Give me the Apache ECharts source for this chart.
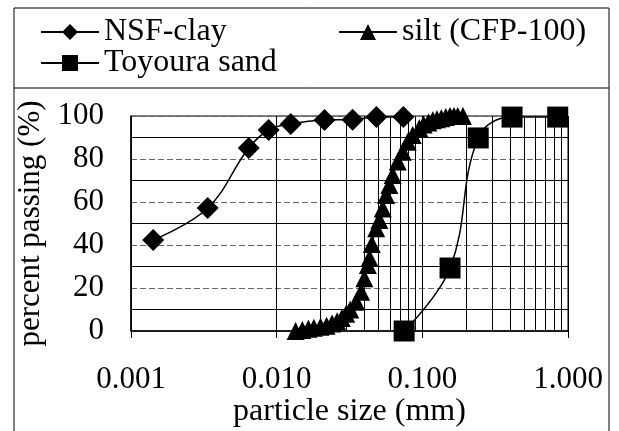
<!DOCTYPE html>
<html>
<head>
<meta charset="utf-8">
<script src="https://cdn.jsdelivr.net/npm/echarts@6/dist/echarts.min.js"></script>
<style>html,body{margin:0;padding:0;background:#fff}#c{width:619px;height:431px}</style>
</head>
<body>
<div id="c"></div>
<script>
const xTickValues = [0.001, 0.01, 0.1, 1];
const minorGridX = [0.002,0.003,0.004,0.005,0.006,0.007,0.008,0.009,
                    0.02,0.03,0.04,0.05,0.06,0.07,0.08,0.09,
                    0.2,0.3,0.4,0.5,0.6,0.7,0.8,0.9];
const nsfClay = [[0.00142,42.3],[0.00336,57.2],[0.00643,85.1],[0.00881,93.5],[0.0125,96.3],[0.0213,98.1],[0.0332,98.3],[0.0484,99.5],[0.0741,99.5]];
const silt = [[0.0135,0],[0.0150,0.5],[0.0165,1],[0.018,1.5],[0.020,2],[0.022,2.5],[0.024,3.5],[0.026,4.5],[0.028,6],[0.030,8],[0.032,10],
              [0.0352,13.6],[0.038,18.3],[0.040,24.5],[0.0423,30.7],[0.0434,34],[0.0450,40.5],[0.0482,47.8],[0.0507,51.6],[0.0535,57],[0.0564,63.3],
              [0.0594,67.9],[0.0626,72.6],[0.0678,78.8],[0.0733,83.4],[0.0793,88],[0.0859,91.2],[0.0953,94.3],[0.102,96],[0.110,97],[0.118,98],
              [0.126,98.5],[0.135,99],[0.145,99.5],[0.155,100],[0.165,100],[0.175,100],[0.190,100]];
const toyoura = [[0.075,0],[0.155,29.3],[0.242,89.8],[0.413,99.5],[0.85,99.5]];
const seriesNames = ['NSF-clay','silt (CFP-100)','Toyoura sand'];

const FONT = 'Liberation Serif';
const chart = echarts.init(document.getElementById('c'));
const legendText = {fontFamily: FONT, fontSize: 32, color: '#000'};
chart.setOption({
  animation: false,
  backgroundColor: '#fff',
  textStyle: {fontFamily: FONT},
  graphic: [
    {type:'rect', shape:{x:14, y:8, width:595, height:460}, style:{fill:'none', stroke:'#000', lineWidth:1}, silent:true},
    {type:'line', shape:{x1:14, y1:88, x2:609, y2:88}, style:{stroke:'#000', lineWidth:1}, silent:true}
  ],
  legend: [
    {data:[seriesNames[0]], left:40, top:16, itemWidth:58, itemHeight:20, itemGap:0, textStyle:legendText, padding:0},
    {data:[seriesNames[1]], left:338, top:16, itemWidth:58, itemHeight:20, itemGap:0, textStyle:legendText, padding:0},
    {data:[seriesNames[2]], left:40, top:47, itemWidth:58, itemHeight:20, itemGap:0, textStyle:legendText, padding:0}
  ],
  grid: {left:131, right:51, top:116, bottom:100, show:true, borderColor:'#000', borderWidth:1},
  xAxis: {
    type:'log', logBase:10, min:0.001, max:1,
    name:'particle size (mm)', nameLocation:'middle', nameGap:55,
    nameTextStyle:{fontFamily:FONT, fontSize:32, color:'#000'},
    axisLine:{show:true, lineStyle:{color:'#000', width:1.5}},
    axisTick:{show:true, length:7, lineStyle:{color:'#000'}},
    axisLabel:{fontFamily:FONT, fontSize:31, color:'#000', margin:33,
      formatter: v => { const t = xTickValues.find(x => Math.abs(Math.log10(x) - Math.log10(v)) < 1e-6); return (t !== undefined ? t : v).toFixed(3); }},
    splitLine:{show:true, lineStyle:{color:'#000', width:1}}
  },
  yAxis: {
    type:'value', min:0, max:100, interval:20,
    name:'percent passing (%)', nameLocation:'middle', nameGap:76,
    nameTextStyle:{fontFamily:FONT, fontSize:31, color:'#000'},
    axisLine:{show:true, lineStyle:{color:'#000', width:1.5}},
    axisTick:{show:false},
    axisLabel:{fontFamily:FONT, fontSize:31, color:'#000', margin:27},
    splitLine:{show:true, lineStyle:{color:'#666', width:1, type:[6,3]}},
    minorTick:{show:false, splitNumber:2},
    minorSplitLine:{show:true, lineStyle:{color:'#000', width:1}}
  },
  series: [
    {name:'grid', type:'line', data:[], z:1, silent:true,
      markLine:{silent:true, symbol:'none', label:{show:false}, animation:false,
        lineStyle:{color:'#000', width:1, type:'solid'},
        data: minorGridX.map(v => ({xAxis: v}))}},
    {name:seriesNames[0], type:'line', data:nsfClay, smooth:0.4, symbol:'diamond', symbolSize:22, z:3,
      itemStyle:{color:'#000'}, lineStyle:{color:'#000', width:1.5}},
    {name:seriesNames[1], type:'line', data:silt, smooth:0.3, symbol:'triangle', symbolSize:18, z:3,
      itemStyle:{color:'#000'}, lineStyle:{color:'#000', width:1.5}},
    {name:seriesNames[2], type:'line', data:toyoura, smooth:0.4, symbol:'rect', symbolSize:21, z:3,
      itemStyle:{color:'#000'}, lineStyle:{color:'#000', width:1.5}}
  ]
});
</script>
</body>
</html>
